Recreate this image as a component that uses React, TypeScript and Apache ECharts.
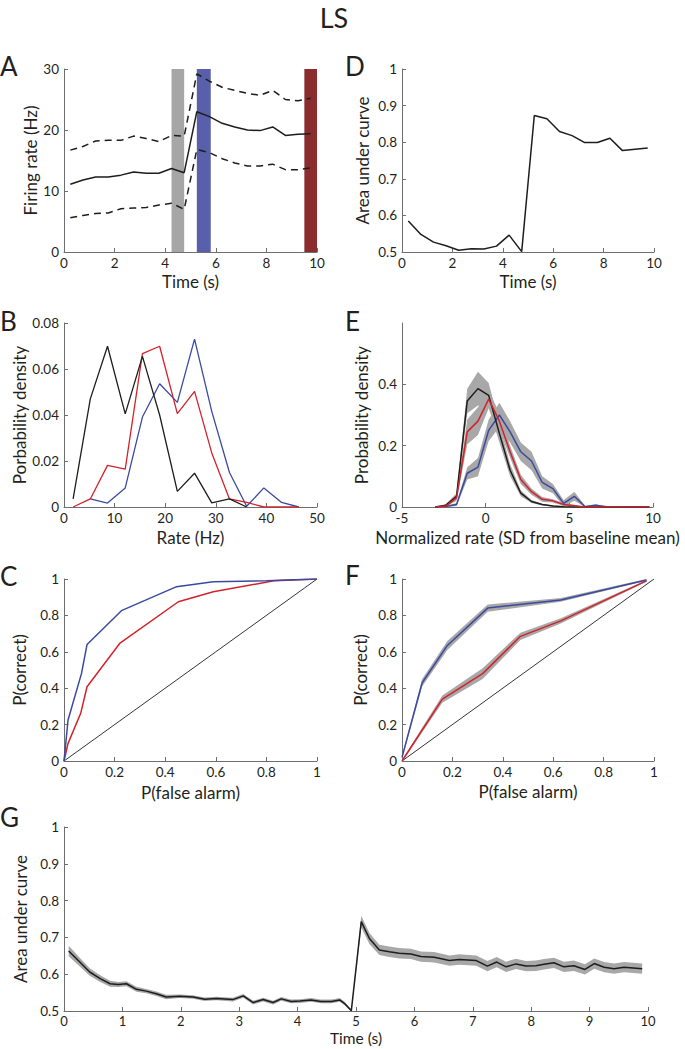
import React, { useEffect, useRef } from "react";
import * as echarts from "echarts";

// ---------- DATA ----------
const A_t = [0.25, 0.75, 1.25, 1.75, 2.25, 2.75, 3.25, 3.75, 4.25, 4.75, 5.25, 5.75, 6.25, 6.75, 7.25, 7.75, 8.25, 8.75, 9.25, 9.75];
const A_mean = [11.1, 11.8, 12.3, 12.3, 12.6, 13.1, 12.9, 12.9, 13.7, 13.0, 23.0, 22.2, 21.1, 20.5, 20.0, 19.9, 20.5, 19.1, 19.3, 19.4];
const A_upper = [16.7, 17.3, 18.2, 18.3, 18.3, 19.0, 18.6, 18.1, 19.1, 19.0, 29.2, 28.0, 27.0, 26.5, 26.0, 25.7, 26.5, 25.0, 24.8, 25.2];
const A_lower = [5.6, 6.0, 6.3, 6.4, 7.1, 7.2, 7.3, 7.7, 8.0, 7.0, 16.8, 16.3, 15.3, 14.6, 14.1, 14.1, 14.4, 13.5, 13.5, 13.8];
const A_epochs = [[4.25, 4.75], [5.25, 5.8], [9.5, 10]];

const D_t = A_t;
const D_auc = [0.585, 0.548, 0.527, 0.517, 0.505, 0.509, 0.508, 0.516, 0.546, 0.501, 0.873, 0.864, 0.829, 0.818, 0.799, 0.799, 0.811, 0.777, 0.781, 0.784];

const B_x = [1.8, 5.2, 8.6, 12.1, 15.5, 18.9, 22.4, 25.8, 29.2, 32.7, 36.1, 39.5, 43.0, 46.4];
const B_black = [0.0035, 0.047, 0.0699, 0.0405, 0.0655, 0.04, 0.0068, 0.0147, 0.0018, 0.0035, 0, null, null, null];
const B_red = [0, 0.0035, 0.0181, 0.0165, 0.0667, 0.0699, 0.0406, 0.0503, 0.0235, 0.0035, 0.002, 0, 0, 0];
const B_blue = [null, 0.0035, 0.0017, 0.0083, 0.0391, 0.0536, 0.0455, 0.073, 0.0416, 0.015, 0.0003, 0.0083, 0.002, 0];

const E_x = [-3.02, -2.38, -1.74, -1.1, -0.46, 0.18, 0.82, 1.46, 2.1, 2.74, 3.38, 4.02, 4.66, 5.3, 5.94, 6.58, 7.22, 7.86, 8.5, 9.14, 9.78];
const E_black = [0, 0.006, 0.035, 0.346, 0.386, 0.364, 0.24, 0.12, 0.045, 0.018, 0.008, 0.003, 0.001, 0, 0, 0, 0, 0, 0, 0, 0];
const E_red = [0, 0.003, 0.03, 0.245, 0.28, 0.352, 0.28, 0.18, 0.09, 0.05, 0.025, 0.02, 0.008, 0.004, 0, 0, 0, 0, 0, 0, 0];
const E_blue = [0, 0.002, 0.008, 0.11, 0.13, 0.25, 0.3, 0.245, 0.18, 0.15, 0.08, 0.06, 0.012, 0.035, 0.001, 0.006, 0.001, 0, 0, 0, 0];
const E_black_err = [0, 0.003, 0.01, 0.04, 0.055, 0.04, 0.03, 0.02, 0.01, 0.005, 0.003, 0.002, 0.001, 0, 0, 0, 0, 0, 0, 0, 0];
const E_red_err = [0, 0.002, 0.01, 0.04, 0.045, 0.03, 0.025, 0.02, 0.015, 0.01, 0.008, 0.005, 0.004, 0.003, 0, 0, 0, 0, 0, 0, 0];
const E_blue_err = [0, 0.002, 0.005, 0.02, 0.03, 0.035, 0.04, 0.035, 0.03, 0.03, 0.02, 0.015, 0.01, 0.015, 0.003, 0.003, 0, 0, 0, 0, 0];

const C_blue_x = [0, 0.016, 0.069, 0.091, 0.227, 0.445, 0.59, 0.8, 1];
const C_blue_y = [0, 0.225, 0.48, 0.64, 0.826, 0.958, 0.985, 0.99, 1];
const C_red_x = [0, 0.016, 0.066, 0.091, 0.22, 0.452, 0.59, 0.83, 1];
const C_red_y = [0, 0.097, 0.262, 0.408, 0.646, 0.875, 0.93, 0.99, 1];

const F_blue_x = [0, 0.08, 0.18, 0.34, 0.63, 0.97];
const F_blue_y = [0.02, 0.43, 0.635, 0.84, 0.885, 0.995];
const F_blue_err = [0.01, 0.02, 0.025, 0.02, 0.01, 0.005];
const F_red_x = [0, 0.16, 0.32, 0.47, 0.63, 0.97];
const F_red_y = [0, 0.34, 0.48, 0.685, 0.77, 0.99];
const F_red_err = [0.005, 0.02, 0.03, 0.02, 0.015, 0.005];

const G_t = [0.08, 0.27, 0.44, 0.62, 0.79, 0.93, 1.07, 1.24, 1.41, 1.58, 1.75, 1.98, 2.21, 2.41, 2.61, 2.89, 3.07, 3.24, 3.41, 3.58, 3.72, 3.89, 4.04, 4.23, 4.4, 4.58, 4.72, 4.8, 4.92, 5.09, 5.23, 5.4, 5.57, 5.74, 5.94, 6.11, 6.34, 6.6, 6.77, 7.06, 7.25, 7.41, 7.57, 7.74, 7.91, 8.08, 8.22, 8.39, 8.56, 8.73, 8.92, 9.08, 9.25, 9.42, 9.59, 9.9];
const G_auc = [0.663, 0.633, 0.606, 0.588, 0.574, 0.572, 0.574, 0.559, 0.554, 0.547, 0.538, 0.54, 0.538, 0.532, 0.534, 0.531, 0.541, 0.523, 0.531, 0.523, 0.533, 0.526, 0.527, 0.53, 0.526, 0.526, 0.53, 0.521, 0.501, 0.743, 0.697, 0.666, 0.661, 0.657, 0.655, 0.648, 0.646, 0.637, 0.64, 0.637, 0.622, 0.633, 0.62, 0.628, 0.622, 0.623, 0.627, 0.631, 0.62, 0.623, 0.613, 0.629, 0.619, 0.615, 0.619, 0.615];
const G_err = [0.014, 0.012, 0.01, 0.009, 0.008, 0.007, 0.007, 0.007, 0.006, 0.006, 0.006, 0.005, 0.005, 0.005, 0.005, 0.005, 0.005, 0.005, 0.005, 0.005, 0.005, 0.005, 0.005, 0.005, 0.005, 0.005, 0.005, 0.005, 0.002, 0.016, 0.015, 0.014, 0.014, 0.014, 0.014, 0.014, 0.014, 0.014, 0.014, 0.014, 0.014, 0.014, 0.014, 0.014, 0.014, 0.014, 0.014, 0.014, 0.014, 0.014, 0.014, 0.014, 0.014, 0.014, 0.014, 0.014];

// ---------- STYLE ----------
const FONT = "Lato, 'Open Sans', sans-serif";
const TXT = "#231f20";
const AX = "#6d6e71";
const BLACK = "#1d1d1b";
const RED = "#d2232a";
const BLUE = "#3a4a9f";
const BAND = "#a8a8a8";
const EPOCH_COLORS = ["#a6a6a6", "#5a5fab", "#8b2d2f"];

const zip = (xs: number[], ys: (number | null)[]) => xs.map((x, i) => [x, ys[i]]);

function xAx(grid: number, min: number, max: number, interval: number, name: string, nameGap: number, nameFont = 17, labelFont = 13.5, labelMargin = 4) {
  return {
    type: "value", gridIndex: grid, min, max, interval, name,
    nameLocation: "middle", nameGap,
    nameTextStyle: { fontSize: nameFont, color: TXT, fontFamily: FONT },
    axisLine: { show: true, onZero: false, lineStyle: { color: AX, width: 1 } },
    axisTick: { show: true, inside: true, length: 4, lineStyle: { color: AX } },
    axisLabel: { fontSize: labelFont, color: TXT, margin: labelMargin, fontFamily: FONT },
    splitLine: { show: false },
  };
}
function yAx(grid: number, min: number, max: number, interval: number, name: string, nameGap: number, extra: any = {}) {
  return {
    type: "value", gridIndex: grid, min, max, interval, name,
    nameLocation: "middle", nameGap, nameRotate: 90,
    nameTextStyle: { fontSize: 17, color: TXT, fontFamily: FONT },
    axisLine: { show: true, onZero: false, lineStyle: { color: AX, width: 1 } },
    axisTick: { show: true, inside: true, length: 4, lineStyle: { color: AX }, ...(extra.axisTick || {}) },
    axisLabel: { fontSize: 13.5, color: TXT, margin: 5, fontFamily: FONT, ...(extra.axisLabel || {}) },
    splitLine: { show: false },
  };
}
function line(grid: number, data: any[], color: string, width = 1.5, type: any = "solid", z = 3) {
  return {
    type: "line", xAxisIndex: grid, yAxisIndex: grid, data, showSymbol: false, symbol: "none",
    lineStyle: { color, width, type }, silent: true, z, connectNulls: false,
  };
}
function band(grid: number, xs: number[], ys: number[], err: number[], color = BAND, floor = -Infinity) {
  const hi = ys.map((y, i) => y + err[i]);
  const lo = ys.map((y, i) => Math.max(floor, y - err[i]));
  return {
    type: "custom", xAxisIndex: grid, yAxisIndex: grid, silent: true, z: 1,
    encode: { x: 0, y: 1 },
    data: [[xs[0], ys[0]]],
    renderItem: (_params: any, api: any) => {
      const pts: number[][] = [];
      for (let i = 0; i < xs.length; i++) pts.push(api.coord([xs[i], hi[i]]));
      for (let i = xs.length - 1; i >= 0; i--) pts.push(api.coord([xs[i], lo[i]]));
      return { type: "polygon", shape: { points: pts }, style: { fill: color } };
    },
  };
}
function letter(text: string, x: number, y: number) {
  return { type: "text", x, y, style: { text, fontSize: 26, fontFamily: FONT, fill: TXT, align: "left", verticalAlign: "middle" } };
}

export default function App() {
  const ref = useRef<HTMLDivElement>(null);
  useEffect(() => {
    if (!ref.current) return;
    const chart = echarts.init(ref.current, null, { renderer: "svg", width: 685, height: 1049 });
    const grids = [
      { left: 64, top: 69, width: 253, height: 183 },   // A 0
      { left: 402, top: 69, width: 252, height: 183 },  // D 1
      { left: 64, top: 323, width: 253, height: 184 },  // B 2
      { left: 402, top: 323, width: 251, height: 184 }, // E 3
      { left: 64, top: 579, width: 253, height: 182 },  // C 4
      { left: 402, top: 579, width: 252, height: 182 }, // F 5
      { left: 64, top: 827, width: 584, height: 184 },  // G 6
    ];
    const xAxis = [
      xAx(0, 0, 10, 2, "Time (s)", 21),
      xAx(1, 0, 10, 2, "Time (s)", 21),
      xAx(2, 0, 50, 10, "Rate (Hz)", 22),
      xAx(3, -5, 10, 5, "Normalized rate (SD from baseline mean)", 22),
      xAx(4, 0, 1, 0.2, "P(false alarm)", 23),
      xAx(5, 0, 1, 0.2, "P(false alarm)", 22),
      xAx(6, 0, 10, 1, "Time (s)", 19, 15.5, 13, 3),
    ];
    const yAxis = [
      yAx(0, 0, 30, 10, "Firing rate (Hz)", 24),
      yAx(1, 0.5, 1, 0.1, "Area under curve", 31),
      yAx(2, 0, 0.08, 0.02, "Porbability density", 35),
      yAx(3, 0, 0.6, 0.2, "Probability density", 32, {
        axisLabel: { customValues: [0, 0.2, 0.4] },
        axisTick: { customValues: [0, 0.2, 0.4] },
      }),
      yAx(4, 0, 1, 0.2, "P(correct)", 36),
      yAx(5, 0, 1, 0.2, "P(correct)", 33),
      yAx(6, 0.5, 1, 0.1, "Area under curve", 29),
    ];

    const series: any[] = [];
    // A
    series.push({
      ...line(0, zip(A_t, A_mean), BLACK, 1.5),
      markArea: {
        silent: true,
        data: A_epochs.map((e, i) => [
          { xAxis: e[0], itemStyle: { color: EPOCH_COLORS[i], opacity: 1 } },
          { xAxis: e[1] },
        ]),
      },
    });
    series.push(line(0, zip(A_t, A_upper), BLACK, 1.5, [7, 5]));
    series.push(line(0, zip(A_t, A_lower), BLACK, 1.5, [7, 5]));
    // D
    series.push(line(1, zip(D_t, D_auc), BLACK, 1.5));
    // B
    series.push(line(2, zip(B_x, B_blue), BLUE, 1.3));
    series.push(line(2, zip(B_x, B_red), RED, 1.3));
    series.push(line(2, zip(B_x, B_black), BLACK, 1.3));
    // E
    series.push(band(3, E_x, E_blue, E_blue_err, BAND, 0));
    series.push(band(3, E_x, E_red, E_red_err, BAND, 0));
    series.push(band(3, E_x, E_black, E_black_err, BAND, 0));
    series.push(line(3, zip(E_x, E_blue), BLUE, 1.5));
    series.push(line(3, zip(E_x, E_black), BLACK, 1.5));
    series.push(line(3, zip(E_x, E_red), RED, 1.5));
    // C
    series.push(line(4, [[0, 0], [1, 1]], "#000", 0.8));
    series.push(line(4, zip(C_red_x, C_red_y), RED, 1.5));
    series.push(line(4, zip(C_blue_x, C_blue_y), BLUE, 1.5));
    // F
    series.push(line(5, [[0, 0], [1, 1]], "#000", 0.8));
    series.push(band(5, F_blue_x, F_blue_y, F_blue_err));
    series.push(band(5, F_red_x, F_red_y, F_red_err));
    series.push(line(5, zip(F_blue_x, F_blue_y), BLUE, 1.5));
    series.push(line(5, zip(F_red_x, F_red_y), RED, 1.5));
    // G
    series.push(band(6, G_t, G_auc, G_err));
    series.push(line(6, zip(G_t, G_auc), BLACK, 1.5));

    chart.setOption({
      animation: false,
      backgroundColor: "#ffffff",
      grid: grids,
      xAxis,
      yAxis,
      series,
      graphic: [
        { type: "text", x: 334, y: 17, style: { text: "LS", fontSize: 27, fontFamily: FONT, fill: TXT, align: "center", verticalAlign: "middle" } },
        letter("A", 0, 66),
        letter("D", 345, 66),
        letter("B", 0, 321),
        letter("E", 345, 321),
        letter("C", 0, 576),
        letter("F", 345, 575),
        letter("G", 0, 817),
      ],
    });
    return () => chart.dispose();
  }, []);
  return <div ref={ref} style={{ position: "fixed", left: 0, top: 0, width: 685, height: 1049, background: "#fff" }} />;
}
